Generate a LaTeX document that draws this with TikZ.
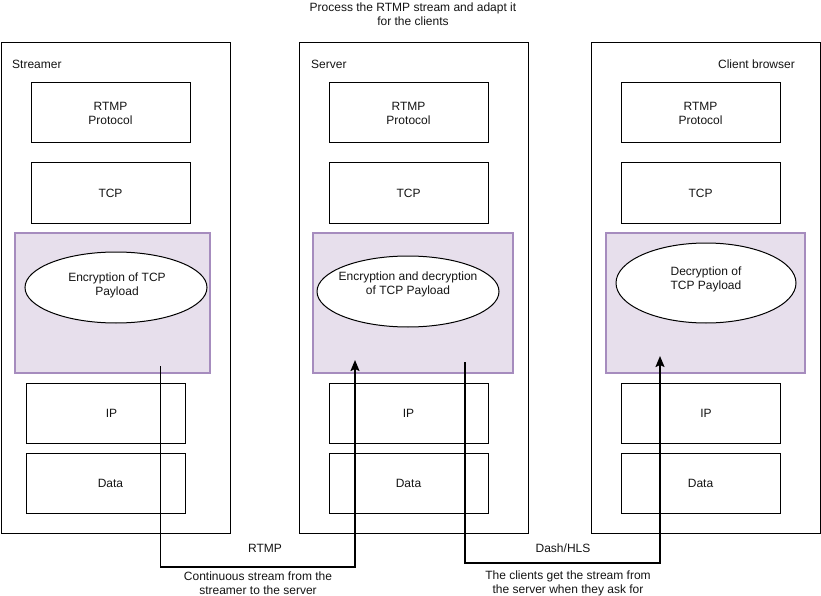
\documentclass[tikz,border=0pt]{standalone}
\usepackage{fontspec}
\setmainfont{Liberation Sans}
\usetikzlibrary{arrows.meta,shapes.geometric}
\definecolor{layerfill}{RGB}{231,223,236}
\definecolor{layerline}{RGB}{166,140,190}
\definecolor{txt}{RGB}{20,20,20}
\begin{document}
\begin{tikzpicture}[x=1pt,y=-1pt,
  every node/.style={font=\fontsize{12}{14}\selectfont, text=txt, align=center, inner sep=0pt},
  outerbox/.style={draw=black, line width=1pt, rectangle, minimum width=229pt, minimum height=490pt},
  box/.style={draw=black, line width=1pt, rectangle, minimum width=159pt, minimum height=60pt},
  layer/.style={draw=layerline, fill=layerfill, line width=1.1pt, rectangle, minimum height=140pt},
  oval/.style={draw=black, fill=white, line width=1pt, ellipse, minimum width=182pt, minimum height=71pt},
  flow/.style={draw=black, line width=1.6pt, -{Stealth[length=11pt,width=9pt,inset=2pt]}},
  plain/.style={}
]
\useasboundingbox (0,0) rectangle (821,596);

% title
\node[plain] (title) at (413,14) {Process the RTMP stream and adapt it\\for the clients};

% outer containers
\node[outerbox] (streamer) at (115.5,288) {};
\node[outerbox] (server) at (413.5,288) {};
\node[outerbox] (client) at (705.5,288) {};
\node[plain, anchor=west] (streamerlbl) at (12,64) {Streamer};
\node[plain, anchor=west] (serverlbl) at (311,64) {Server};
\node[plain, anchor=east] (clientlbl) at (795,64) {Client browser};

% streamer column
\node[box] (s-rtmp) at (110.5,113) {RTMP\\Protocol};
\node[box] (s-tcp) at (110.5,193) {TCP};
\node[layer, minimum width=195pt] (s-layer) at (112.5,303) {};
\node[oval] (s-enc) at (116,287.5) {};
\node[plain] (s-enc-t) at (117,285) {Encryption of TCP\\Payload};
\node[box, label={[xshift=6pt]center:IP}] (s-ip) at (105.5,413) {};
\node[box, label={[xshift=5pt]center:Data}] (s-data) at (105.5,483) {};

% server column
\node[box] (v-rtmp) at (408.5,113) {RTMP\\Protocol};
\node[box] (v-tcp) at (408.5,193) {TCP};
\node[layer, minimum width=200pt] (v-layer) at (413,303) {};
\node[oval] (v-enc) at (408,291.5) {};
\node[plain] (v-enc-t) at (408,284) {Encryption and decryption\\of TCP Payload};
\node[box] (v-ip) at (408.5,413) {IP};
\node[box] (v-data) at (408.5,483) {Data};

% client column
\node[box] (c-rtmp) at (700.5,113) {RTMP\\Protocol};
\node[box] (c-tcp) at (700.5,193) {TCP};
\node[layer, minimum width=199pt] (c-layer) at (705.5,303) {};
\node[oval, minimum width=180pt, minimum height=80pt] (c-enc) at (706,283) {};
\node[plain] (c-enc-t) at (706,279) {Decryption of\\TCP Payload};
\node[box, label={[xshift=5.5pt]center:IP}] (c-ip) at (700.5,413) {};
\node[box] (c-data) at (700.5,483) {Data};

% connectors
\coordinate (a1s) at (160.5,366);
\coordinate (a1e) at (355,360);
\coordinate (a2s) at (465,362);
\coordinate (a2e) at (660,356);
\draw[flow] (a1s) -- ++(0,201) -| (a1e);
\draw[flow] (a2s) -- ++(0,201) -| (a2e);

% connector labels
\node[plain] (rtmplbl) at (265,548) {RTMP};
\node[plain] (rtmpnote) at (258,583) {Continuous stream from the\\streamer to the server};
\node[plain] (dashlbl) at (563,548) {Dash/HLS};
\node[plain] (dashnote) at (568,583) {The clients get the stream from\\the server when they ask for};
\end{tikzpicture}
\end{document}
